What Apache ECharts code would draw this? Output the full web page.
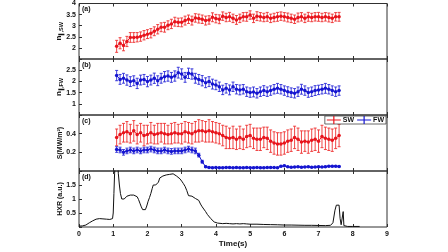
<!DOCTYPE html>
<html>
<head>
<meta charset="utf-8">
<script src="https://cdn.jsdelivr.net/npm/echarts@6/dist/echarts.min.js"></script>
<style>html,body{margin:0;padding:0;background:#fff;}#c{width:448px;height:252px;}</style>
</head>
<body>
<div id="c"></div>
<script>
const tSW = [1.1,1.2,1.3,1.4,1.5,1.6,1.7,1.8,1.9,2.0,2.1,2.2,2.3,2.4,2.5,2.6,2.7,2.8,2.9,3.0,3.1,3.2,3.3,3.4,3.5,3.6,3.7,3.8,3.9,4.0,4.1,4.2,4.3,4.4,4.5,4.6,4.7,4.8,4.9,5.0,5.1,5.2,5.3,5.4,5.5,5.6,5.7,5.8,5.9,6.0,6.1,6.2,6.3,6.4,6.5,6.6,6.7,6.8,6.9,7.0,7.1,7.2,7.3,7.4,7.5,7.6];
const nSW = [2.07,2.21,2.11,2.29,2.47,2.47,2.48,2.51,2.57,2.62, 2.66,2.75,2.84,2.93,2.93,3.02,3.08,3.18,3.15,3.15, 3.23,3.29,3.23,3.35,3.32,3.29,3.23,3.26,3.38,3.32, 3.29,3.43, 3.37,3.40,3.33,3.26,3.33,3.40,3.40,3.48, 3.33,3.43,3.40,3.37,3.40,3.33,3.37,3.40,3.43,3.40, 3.37,3.33,3.29,3.37,3.40,3.33,3.40,3.37,3.40,3.40, 3.37,3.40,3.37,3.33,3.40,3.40];
const nSWerr = [0.27,0.25,0.24,0.23,0.22,0.22,0.21,0.21,0.21,0.20, 0.21,0.20,0.21,0.20,0.22,0.20,0.21,0.20,0.19,0.20, 0.20,0.19,0.20,0.19,0.20,0.19,0.20,0.19,0.20,0.19, 0.20,0.19, 0.19,0.20,0.19,0.20,0.19,0.19,0.20,0.19, 0.19,0.20,0.19,0.19,0.20,0.19,0.19,0.20,0.19,0.19, 0.20,0.19,0.19,0.20,0.19,0.19,0.20,0.19,0.19,0.20, 0.19,0.19,0.20,0.19,0.19,0.20];
const nFW = [2.26,2.09,2.14,2.06,1.99,2.03,1.91,2.06,2.09,1.99, 2.06,2.14,2.03,2.14,2.21,2.24,2.18,2.24,2.39,2.33, 2.18,2.36,2.33,2.14,2.09,2.03,1.94,1.99,1.88,1.84, 1.76,1.62, 1.69,1.62,1.76,1.65,1.62,1.65,1.54,1.50, 1.53,1.47,1.54,1.59,1.54,1.59,1.65,1.69,1.65,1.59, 1.54,1.50,1.47,1.54,1.65,1.59,1.50,1.54,1.59,1.62, 1.65,1.69,1.65,1.59,1.54,1.59];
const nFWerr = [0.23,0.22,0.22,0.23,0.22,0.22,0.23,0.22,0.22,0.23, 0.22,0.23,0.22,0.22,0.23,0.23,0.22,0.23,0.24,0.23, 0.22,0.23,0.23,0.22,0.22,0.23,0.22,0.22,0.22,0.21, 0.21,0.21, 0.21,0.22,0.21,0.21,0.22,0.21,0.21,0.21, 0.22,0.21,0.21,0.22,0.21,0.21,0.21,0.22,0.21,0.21, 0.22,0.21,0.21,0.21,0.22,0.21,0.21,0.21,0.22,0.21, 0.21,0.22,0.21,0.21,0.21,0.21];
const sSW = [0.36,0.39,0.41,0.42,0.40,0.43,0.39,0.41,0.38,0.39, 0.41,0.39,0.40,0.41,0.40,0.39,0.40,0.41,0.40,0.40, 0.42,0.41,0.40,0.42,0.43,0.43,0.42,0.43,0.42,0.41, 0.40,0.38, 0.36,0.35,0.36,0.34,0.36,0.34,0.37,0.38, 0.35,0.34,0.34,0.36,0.35,0.32,0.30,0.29,0.29,0.30, 0.32,0.33,0.36,0.34,0.31,0.32,0.31,0.33,0.34,0.32, 0.37,0.35,0.34,0.33,0.35,0.38];
const sSWerr = [0.09,0.10,0.10,0.11,0.10,0.11,0.10,0.10,0.11,0.10, 0.11,0.10,0.11,0.10,0.11,0.10,0.11,0.11,0.10,0.11, 0.11,0.11,0.11,0.11,0.12,0.11,0.11,0.12,0.11,0.11, 0.11,0.11, 0.12,0.11,0.12,0.11,0.12,0.11,0.12,0.12, 0.11,0.12,0.12,0.11,0.12,0.12,0.12,0.12,0.12,0.12, 0.12,0.12,0.12,0.12,0.12,0.11,0.12,0.12,0.12,0.12, 0.12,0.12,0.12,0.12,0.11,0.12];
const sFW = [0.23,0.225,0.20,0.215,0.225,0.215,0.225,0.215,0.225,0.225, 0.235,0.225,0.215,0.215,0.225,0.215,0.21,0.215,0.215,0.215, 0.225,0.235,0.225,0.215, 0.17,0.10,0.046,0.038, 0.036,0.037,0.036,0.036,0.038,0.037,0.036,0.037,0.036,0.036, 0.037,0.036,0.036,0.037,0.036,0.036,0.037,0.038,0.037,0.036, 0.05,0.056,0.045,0.04,0.042,0.045,0.04,0.044,0.045,0.04, 0.042,0.045,0.043,0.046,0.052,0.05,0.052,0.048];
const sFWerr = [0.03,0.03,0.03,0.03,0.03,0.03,0.03,0.03,0.03,0.03, 0.03,0.03,0.03,0.03,0.03,0.03,0.03,0.03,0.03,0.03, 0.03,0.03,0.03,0.03, 0.02,0.015,0.008,0.006, 0.005,0.005,0.005,0.005,0.005,0.005,0.005,0.005,0.005,0.005, 0.005,0.005,0.005,0.005,0.005,0.005,0.005,0.005,0.005,0.005, 0.006,0.006,0.005,0.005,0.005,0.005,0.005,0.005,0.005,0.005, 0.005,0.005,0.005,0.006,0.006,0.006,0.006,0.006];
const hxrT = [0,0.05,0.1,0.15,0.2,0.25,0.3,0.35,0.4,0.45, 0.5,0.55,0.6,0.65,0.7,0.75,0.8,0.85,0.9,0.95, 0.98,1.0,1.02,1.04,1.06,1.13,1.15,1.18,1.21,1.25, 1.28,1.32,1.36,1.4,1.45,1.5,1.55,1.6,1.65,1.7, 1.74,1.78,1.82,1.86,1.9,1.94,1.98,2.02,2.06,2.1, 2.14,2.17,2.2,2.24,2.28,2.32,2.36,2.4,2.45,2.5, 2.55,2.6,2.65,2.7,2.75,2.8,2.85,2.9,2.95,3.0, 3.05,3.1,3.15,3.2,3.25,3.3,3.35,3.4,3.45,3.5, 3.55,3.6,3.65,3.7,3.75,3.8,3.85,3.9,3.95,4.0, 4.05,4.1,4.2,4.3,4.4,4.5,4.6,4.7,4.8,4.9, 5.0,5.2,5.4,5.6,5.8,6.0,6.2,6.4,6.6,6.8, 7.0,7.2,7.35,7.42,7.48,7.52,7.56,7.6,7.63,7.66, 7.68,7.7,7.72,7.74,7.76,7.78,7.85,8.0,8.2];
const hxrV = [0.03,0.03,0.04,0.06,0.07,0.1,0.15,0.2,0.22,0.24, 0.28,0.3,0.3,0.28,0.29,0.27,0.28,0.3,0.27,0.26, 0.3,0.5,1.2,1.9,2.3,2.3,1.9,1.5,1.2,1.0, 0.94,1.0,1.06,1.1,1.13,1.14,1.12,1.14,1.11,1.08, 0.98,0.85,0.72,0.62,0.58,0.62,0.75,0.92,1.05,1.2, 1.38,1.5,1.45,1.5,1.52,1.6,1.75,1.8,1.82,1.85, 1.86,1.85,1.88,1.9,1.9,1.88,1.82,1.77,1.72,1.64, 1.55,1.45,1.3,1.12,1.07,1.1,1.08,1.02,1.0,0.95, 0.82,0.72,0.65,0.55,0.45,0.38,0.3,0.24,0.18,0.15, 0.14,0.13,0.12,0.13,0.12,0.11,0.12,0.11,0.12,0.11, 0.1,0.1,0.09,0.085,0.08,0.07,0.07,0.065,0.06,0.06, 0.055,0.05,0.06,0.15,0.6,0.78,0.82,0.78,0.3,0.08, 0.03,0.1,0.55,0.05,0.02,0.02,0.02,0.02,0.02];
const xTickLabels = ['0','1','2','3','4','5','6','7','8','9'];
const panelLabels = ['(a)','(b)','(c)','(d)'];
const yRanges = [[1.5,4,0.5,[1.5]],[0.5,3,0.5,[0.5,3]],[0,0.6,0.2,[0,0.6]],[0,2,0.5,[0,2]]];

const RED = '#e8141c', RED_E = '#ee3030', BLUE = '#1515d0', BLUE_E = '#2a2ad8';
const FONT = 'Liberation Sans, Arial, sans-serif';
const tops = [3,59,115,171];

function errSeries(name, idx, t, v, e, color){
  return {
    type:'custom', name, xAxisIndex:idx, yAxisIndex:idx, z:2, silent:true,
    data: t.map((x,i)=>[x, v[i]-e[i], v[i]+e[i]]),
    encode:{x:0, y:[1,2]},
    renderItem:(p, api)=>{
      const x = api.value(0);
      const a = api.coord([x, api.value(1)]);
      const b = api.coord([x, api.value(2)]);
      const c = 1.5;
      const st = {stroke:color, lineWidth:0.9};
      return {type:'group', children:[
        {type:'line', shape:{x1:a[0],y1:a[1],x2:b[0],y2:b[1]}, style:st},
        {type:'line', shape:{x1:a[0]-c,y1:a[1],x2:a[0]+c,y2:a[1]}, style:st},
        {type:'line', shape:{x1:b[0]-c,y1:b[1],x2:b[0]+c,y2:b[1]}, style:st}
      ]};
    }
  };
}
function lineSeries(name, idx, t, v, color){
  return {type:'line', name, xAxisIndex:idx, yAxisIndex:idx, z:3,
    data:t.map((x,i)=>[x,v[i]]), symbol:'circle', symbolSize:3.5,
    lineStyle:{color, width:1}, itemStyle:{color}};
}

const grids = tops.map(t=>({left:79, right:61, top:t, height:56, show:true, borderColor:'#303030', borderWidth:1}));
const xAxes = [];
for (let i=0;i<4;i++){
  xAxes.push({type:'value', gridIndex:i, min:0, max:9, interval:1, position:'bottom',
    axisLine:{show:false}, splitLine:{show:false},
    axisTick:{show:true, inside:true, length:3, lineStyle:{color:'#303030'}},
    axisLabel:{show:i===3, margin:4, fontSize:7, fontWeight:'bold', color:'#111', fontFamily:FONT,
      showMinLabel:true, showMaxLabel:true,
      formatter:(v)=>xTickLabels[Math.round(v)]},
    name: i===3 ? 'Time(s)' : '', nameLocation:'middle', nameGap:13, nameMoveOverlap:false,
    nameTextStyle:{fontSize:8, fontWeight:'bold', color:'#111', fontFamily:FONT}});
}
for (let i=0;i<4;i++){
  xAxes.push({type:'value', gridIndex:i, min:0, max:9, interval:1, position:'top',
    axisLine:{show:false}, splitLine:{show:false}, axisLabel:{show:false},
    axisTick:{show:true, inside:true, length:3, lineStyle:{color:'#303030'}}});
}
const yNames = [
  '{n|n}{s|∥,SW}',
  '{n|n}{s|∥,FW}',
  'S(MW/m²)',
  'HXR (a.u.)'
];
const yAxes = yRanges.map((r,i)=>({type:'value', gridIndex:i, min:r[0], max:r[1], interval:r[2],
  axisLine:{show:false}, splitLine:{show:false},
  axisTick:{show:true, inside:true, length:3, lineStyle:{color:'#303030'}},
  axisLabel:{margin:3, fontSize:7, fontWeight:'bold', color:'#111', fontFamily:FONT,
    showMinLabel:true, showMaxLabel:true, hideOverlap:false,
    formatter:(v)=> r[3].some(h=>Math.abs(h-v)<1e-9) ? '' : String(+v.toFixed(2))},
  name:yNames[i], nameLocation:'middle', nameGap:15, nameRotate:90, nameMoveOverlap:false,
  nameTextStyle:{fontSize:7, fontWeight:'bold', color:'#111', fontFamily:FONT,
    rich:{n:{fontSize:8, fontWeight:'bold', color:'#111', fontFamily:FONT},
          s:{fontSize:5.5, fontWeight:'bold', color:'#111', fontFamily:FONT, padding:[4,0,0,0]}}}
}));

const option = {
  animation:false,
  backgroundColor:'#fff',
  grid:grids, xAxis:xAxes, yAxis:yAxes,
  legend:{right:62, top:116, itemWidth:14, itemHeight:8, itemGap:3, padding:[0,2,0,2],
    borderColor:'#444', borderWidth:0.8, backgroundColor:'#fff',
    textStyle:{fontSize:7, fontWeight:'bold', color:'#111', fontFamily:FONT, padding:[0,0,0,-3]},
    data:[
      {name:'SW', icon:'path://M0,3.5h14v1h-14zM6.4,0h1.2v8h-1.2z', itemStyle:{color:RED}},
      {name:'FW', icon:'path://M0,3.5h14v1h-14zM6.4,0h1.2v8h-1.2z', itemStyle:{color:BLUE}}
    ]},
  graphic: panelLabels.map((s,i)=>({type:'text', left:82, top:tops[i]+3,
    style:{text:s, fontSize:7, fontWeight:'bold', fill:'#111', fontFamily:FONT}})),
  series:[
    errSeries('SWa-err',0,tSW,nSW,nSWerr,RED_E),
    lineSeries('SWa',0,tSW,nSW,RED),
    errSeries('FWb-err',1,tSW,nFW,nFWerr,BLUE_E),
    lineSeries('FWb',1,tSW,nFW,BLUE),
    errSeries('SW-err',2,tSW,sSW,sSWerr,RED_E),
    lineSeries('SW',2,tSW,sSW,RED),
    errSeries('FW-err',2,tSW,sFW,sFWerr,BLUE_E),
    lineSeries('FW',2,tSW,sFW,BLUE),
    {type:'line', name:'HXR', xAxisIndex:3, yAxisIndex:3, showSymbol:false, symbol:'none',
      data:hxrT.map((x,i)=>[x,hxrV[i]]), lineStyle:{color:'#111', width:1}, clip:true}
  ]
};
echarts.init(document.getElementById('c')).setOption(option);
</script>
</body>
</html>
